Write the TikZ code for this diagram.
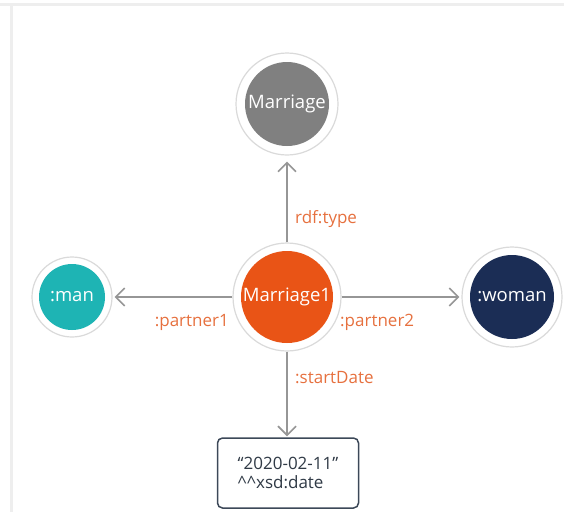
\documentclass[tikz,border=0pt]{standalone}
\usepackage{fontspec}
\setmainfont{Open Sans}
\usetikzlibrary{arrows.meta}
\definecolor{ringgray}{RGB}{218,218,218}
\definecolor{nodegray}{RGB}{128,128,128}
\definecolor{nodeorange}{RGB}{233,84,22}
\definecolor{nodeteal}{RGB}{30,180,180}
\definecolor{nodenavy}{RGB}{27,45,85}
\definecolor{edgegray}{RGB}{150,150,150}
\definecolor{labelorange}{RGB}{230,112,62}
\definecolor{boxborder}{RGB}{60,72,88}
\definecolor{framegray}{RGB}{238,238,238}
\tikzset{
  resnode/.style n args={3}{circle, draw=ringgray, line width=1.2pt, fill=white,
    minimum size=#1, inner sep=0pt, text=white, font=\fontsize{18.5}{20}\selectfont,
    path picture={\fill[#3] (path picture bounding box.center) circle (#2);}},
  rel/.style={draw=edgegray, line width=1.6pt,
    -{Straight Barb[length=9pt,width=18pt,line width=1.6pt]}},
  rellabel/.style={text=labelorange, font=\fontsize{17}{18}\selectfont, inner sep=0pt},
  litbox/.style={draw=boxborder, line width=1.5pt, rounded corners=5pt, fill=white,
    minimum width=141pt, minimum height=70pt, align=left, text=boxborder!80!black,
    font=\fontsize{17}{19.5}\selectfont}
}
\begin{document}
\begin{tikzpicture}[x=1pt,y=-1pt]
  \useasboundingbox (0,0) rectangle (564,512);
  % panel frame
  \fill[framegray] (0,2.5) rectangle (564,5.5);
  \fill[framegray] (10,5.5) rectangle (13,512);

  % resources
  \node[resnode={102pt}{42pt}{nodegray}] (type) at (287,104) {Marriage};
  \node[resnode={108pt}{46pt}{nodeorange}] (m1) at (287,297) {Marriage1};
  \node[resnode={80pt}{33pt}{nodeteal}] (man) at (72,297) {:man};
  \node[resnode={100pt}{42pt}{nodenavy}] (woman) at (512,297) {:woman};

  % literal
  \node[litbox] (date) at (288,473) {\textquotedblleft2020-02-11\textquotedblright\\\^{}\^{}xsd:date};

  % properties
  \draw[rel, shorten >=6pt] (m1) -- (type);
  \draw[rel, shorten >=2pt] (m1) -- (man);
  \draw[rel, shorten >=2pt] (m1) -- (woman);
  \draw[rel, shorten >=1pt] (m1) -- (date.north -| m1);

  \node[rellabel, anchor=west] (lt) at (295,219) {rdf:type};
  \node[rellabel, anchor=east] (lp1) at (229,322) {:partner1};
  \node[rellabel, anchor=west] (lp2) at (340,322) {:partner2};
  \node[rellabel, anchor=west] (ls) at (295,378) {:startDate};
\end{tikzpicture}
\end{document}
